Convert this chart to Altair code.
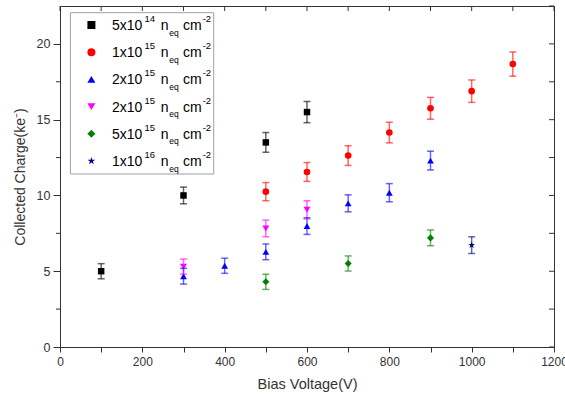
import altair as alt
import pandas as pd

# ---- data ----
series_names = ["5e14", "1e15", "2e15a", "2e15b", "5e15", "1e16"]
legend_base = ["5x10", "1x10", "2x10", "2x10", "5x10", "1x10"]
legend_exp = ["14", "15", "15", "15", "15", "16"]
colors = ["#000000", "#ff0000", "#0000ff", "#ff00ff", "#008000", "#000080"]
STAR = ("M0,-1L0.2245,-0.309L0.951,-0.309L0.363,0.118L0.588,0.809L0,0.382"
        "L-0.588,0.809L-0.363,0.118L-0.951,-0.309L-0.2245,-0.309Z")
shapes = ["square", "circle", "triangle-up", "triangle-down", "diamond", STAR]
sizes = [42, 52, 60, 60, 55, 70]

v_5e14 = [100, 300, 500, 600]
q_5e14 = [5.0, 10.0, 13.5, 15.5]
e_5e14 = [0.5, 0.55, 0.65, 0.7]

v_1e15 = [500, 600, 700, 800, 900, 1000, 1100]
q_1e15 = [10.25, 11.55, 12.63, 14.15, 15.75, 16.88, 18.67]
e_1e15 = [0.6, 0.62, 0.65, 0.68, 0.72, 0.74, 0.8]

v_2e15a = [300, 400, 500, 600, 700, 800, 900]
q_2e15a = [4.67, 5.36, 6.28, 7.98, 9.48, 10.18, 12.3]
e_2e15a = [0.52, 0.5, 0.52, 0.55, 0.56, 0.6, 0.62]

v_2e15b = [300, 500, 600]
q_2e15b = [5.3, 7.82, 9.05]
e_2e15b = [0.5, 0.55, 0.6]

v_5e15 = [500, 700, 900]
q_5e15 = [4.3, 5.51, 7.2]
e_5e15 = [0.5, 0.5, 0.52]

v_1e16 = [1000]
q_1e16 = [6.72]
e_1e16 = [0.55]

x_ticks = [0, 100, 200, 300, 400, 500, 600, 700, 800, 900, 1000, 1100, 1200]
y_major = [0, 5, 10, 15, 20]
y_minor = [2.5, 7.5, 12.5, 17.5]
y_ticks = [0, 2.5, 5, 7.5, 10, 12.5, 15, 17.5, 20, 22.5]

# ---- tables ----
all_v = [v_5e14, v_1e15, v_2e15a, v_2e15b, v_5e15, v_1e16]
all_q = [q_5e14, q_1e15, q_2e15a, q_2e15b, q_5e15, q_1e16]
all_e = [e_5e14, e_1e15, e_2e15a, e_2e15b, e_5e15, e_1e16]
rows = []
for name, vs, qs, es in zip(series_names, all_v, all_q, all_e):
    for v, q, e in zip(vs, qs, es):
        rows.append({"series": name, "V": v, "Q": q, "lo": q - e, "hi": q + e})
df = pd.DataFrame(rows)

W, H = 494, 341
FONT = "Liberation Sans"

color_scale = alt.Scale(domain=series_names, range=colors)
shape_scale = alt.Scale(domain=series_names, range=shapes)
size_scale = alt.Scale(domain=series_names, range=sizes)
x_scale = alt.Scale(domain=[0, 1200], nice=False, zero=False)
y_scale = alt.Scale(domain=[0, 22.5], nice=False, zero=False)

x_axis = alt.Axis(
    values=x_ticks,
    labelExpr="datum.value % 200 === 0 ? datum.value : ''",
    title="Bias Voltage(V)",
    orient="bottom",
    tickSize=5,
    labelPadding=4,
    labelFlush=False,
    labelOverlap=False,
    titlePadding=10,
    labelFontSize=12,
    titleFontSize=14.5,
)
y_axis = alt.Axis(
    values=y_major,
    title="Collected Charge(ke\u207b)",
    orient="left",
    tickSize=7,
    labelPadding=3,
    labelFlush=False,
    titlePadding=9,
    labelFontSize=12.5,
    titleFontSize=14,
)


def X(field):
    return alt.X(f"{field}:Q", scale=x_scale, axis=x_axis)


def Y(field):
    return alt.Y(f"{field}:Q", scale=y_scale, axis=y_axis)


base = alt.Chart(df)

points = base.mark_point(filled=True, opacity=1, strokeWidth=0).encode(
    x=X("V"),
    y=Y("Q"),
    color=alt.Color("series:N", scale=color_scale, legend=None),
    shape=alt.Shape("series:N", scale=shape_scale, legend=None),
    size=alt.Size("series:N", scale=size_scale, legend=None),
)
err = base.mark_rule(strokeWidth=1.5, opacity=0.6).encode(
    x=X("V"),
    y=Y("lo"),
    y2="hi:Q",
    color=alt.Color("series:N", scale=color_scale, legend=None),
)
cap_lo = base.mark_tick(orient="horizontal", size=7, thickness=1.5, opacity=0.6).encode(
    x=X("V"),
    y=Y("lo"),
    color=alt.Color("series:N", scale=color_scale, legend=None),
)
cap_hi = base.mark_tick(orient="horizontal", size=7, thickness=1.5, opacity=0.6).encode(
    x=X("V"),
    y=Y("hi"),
    color=alt.Color("series:N", scale=color_scale, legend=None),
)

# minor outward ticks on the left, inward ticks on the top and right frame
left_minor = alt.Chart(pd.DataFrame({"t": y_minor})).mark_rule(color="#333").encode(
    y=Y("t"),
    x=alt.value(-4),
    x2=alt.value(0),
)
top_ticks = alt.Chart(pd.DataFrame({"t": x_ticks})).mark_rule(color="#333").encode(
    x=X("t"),
    y=alt.value(0),
    y2=alt.value(5),
)
right_ticks = alt.Chart(pd.DataFrame({"t": y_ticks})).mark_rule(color="#333").encode(
    y=Y("t"),
    x=alt.value(W - 5),
    x2=alt.value(W),
)

# ---- custom legend (pixel layout) ----
ROW0, ROWSTEP = 19, 27.2
box = alt.Chart(pd.DataFrame({"a": [0]})).mark_rect(
    fill="white", stroke="#a0a0a0", strokeWidth=1
).encode(x=alt.value(10.4), x2=alt.value(153.7), y=alt.value(6.7), y2=alt.value(168))

leg_layers = []
for i, (name, b, ex) in enumerate(zip(series_names, legend_base, legend_exp)):
    r = ROW0 + i * ROWSTEP
    one = alt.Chart(pd.DataFrame([{"base": b, "exp": ex, "n": "n", "eq": "eq",
                                   "cm": "cm", "m2": "-2"}]))
    leg_layers.append(
        one.mark_point(
            filled=True, opacity=1, strokeWidth=0, size=64,
            shape=shapes[i], color=colors[i],
        ).encode(x=alt.value(31.4), y=alt.value(r))
    )
    for field, xpos, ypos, fs in [
        ("base", 52.0, r + 5, 14),
        ("exp", 84.5, r - 3, 9.5),
        ("n", 100.7, r + 5, 14),
        ("eq", 109.3, r + 10.5, 8.5),
        ("cm", 123.0, r + 5, 14),
        ("m2", 142.7, r - 3, 9.5),
    ]:
        leg_layers.append(
            one.mark_text(
                align="left", baseline="alphabetic", fontSize=fs, font=FONT, color="#000"
            ).encode(x=alt.value(xpos), y=alt.value(ypos), text=f"{field}:N")
        )

chart = alt.layer(
    points, err, cap_lo, cap_hi, left_minor, top_ticks, right_ticks, box, *leg_layers
).properties(
    width=W,
    height=H,
    padding={"left": 60, "top": 6, "right": 11, "bottom": 54},
    autosize=alt.AutoSizeParams(type="none"),
    background="white",
).configure_view(
    stroke="#333", strokeWidth=1
).configure_axis(
    domainColor="#333",
    tickColor="#333",
    labelColor="#333",
    titleColor="#333",
    labelFont=FONT,
    titleFont=FONT,
    titleFontWeight="normal",
    grid=False,
)

chart.save("out.html", embed_options={"renderer": "svg", "actions": False})
